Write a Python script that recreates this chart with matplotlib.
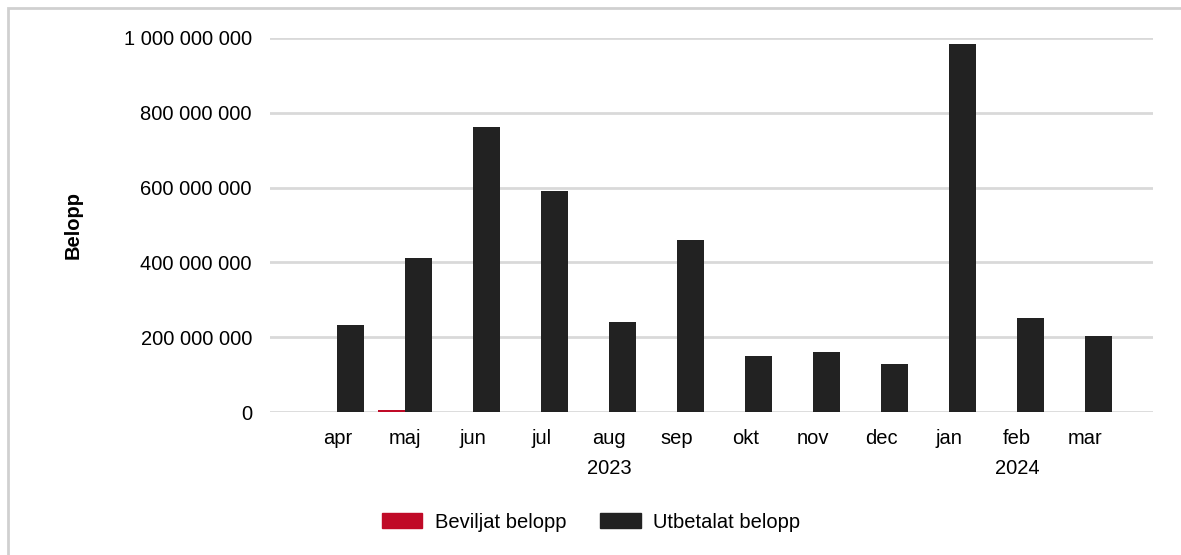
import matplotlib.pyplot as plt
from matplotlib.patches import Rectangle, Patch
from matplotlib.ticker import FuncFormatter
import numpy as np

plt.rcParams['font.family'] = ['Liberation Sans', 'DejaVu Sans']

# Months April 2023 - March 2024
months = ['apr', 'maj', 'jun', 'jul', 'aug', 'sep', 'okt', 'nov', 'dec', 'jan', 'feb', 'mar']
years = ['2023', '2024']
year_groups = [(0, 8), (9, 11)]

# Beviljat belopp (granted) - almost nothing, small amount in maj
beviljat = [0, 5_000_000, 0, 0, 0, 0, 0, 0, 0, 0, 0, 0]
# Utbetalat belopp (paid out)
utbetalat = [232_000_000, 413_000_000, 762_000_000, 590_000_000, 240_000_000, 460_000_000,
             150_000_000, 160_000_000, 128_000_000, 985_000_000, 252_000_000, 202_000_000]

red = '#c00a27'
dark = '#222222'
grid_col = '#d9d9d9'

fig = plt.figure(figsize=(11.81, 5.55), dpi=100)
ax = fig.add_axes([270 / 1181, 1 - 412 / 555, 883 / 1181, 374 / 555])

x = np.arange(len(months))
w = 0.4
ax.bar(x - w / 2, beviljat, width=w, color=red, zorder=3)
ax.bar(x + w / 2, utbetalat, width=w, color=dark, zorder=3)

ax.set_ylim(0, 1_000_000_000)
ax.set_xlim(-0.99, 12.0)
ax.set_yticks(np.arange(0, 1_000_000_001, 200_000_000))
ax.yaxis.set_major_formatter(FuncFormatter(lambda v, p: f'{int(v):,}'.replace(',', ' ')))
ax.set_xticks(x)
ax.set_xticklabels(months)
ax.tick_params(axis='both', length=0, labelsize=14.5, colors='black')
ax.tick_params(axis='x', pad=12)
ax.tick_params(axis='y', pad=13)
ax.grid(axis='y', color=grid_col, linewidth=2, zorder=0)
for s in ax.spines.values():
    s.set_visible(False)

# year labels under the months
for yr, (a, b) in zip(years, year_groups):
    ax.text((a + b) / 2, -0.152, yr, transform=ax.get_xaxis_transform(),
            ha='center', va='center', fontsize=14.5)

fig.text(73 / 1181, 1 - 225 / 555, 'Belopp', rotation=90, ha='center', va='center',
         fontsize=14.5, fontweight='bold')

handles = [Patch(color=red, label='Beviljat belopp'), Patch(color=dark, label='Utbetalat belopp')]
fig.legend(handles=handles, loc='center', bbox_to_anchor=(591 / 1181, 1 - 522 / 555), ncol=2,
           frameon=False, fontsize=14.5, handlelength=2.0, handleheight=0.7,
           columnspacing=1.7, handletextpad=0.6)

# outer frame
fig.patches.append(Rectangle((8 / 1181, -0.1), 1.2, 1.1 - 8 / 555, transform=fig.transFigure,
                             fill=False, edgecolor='#d0d0d0', linewidth=2))

fig.savefig('out.png', dpi=100)
